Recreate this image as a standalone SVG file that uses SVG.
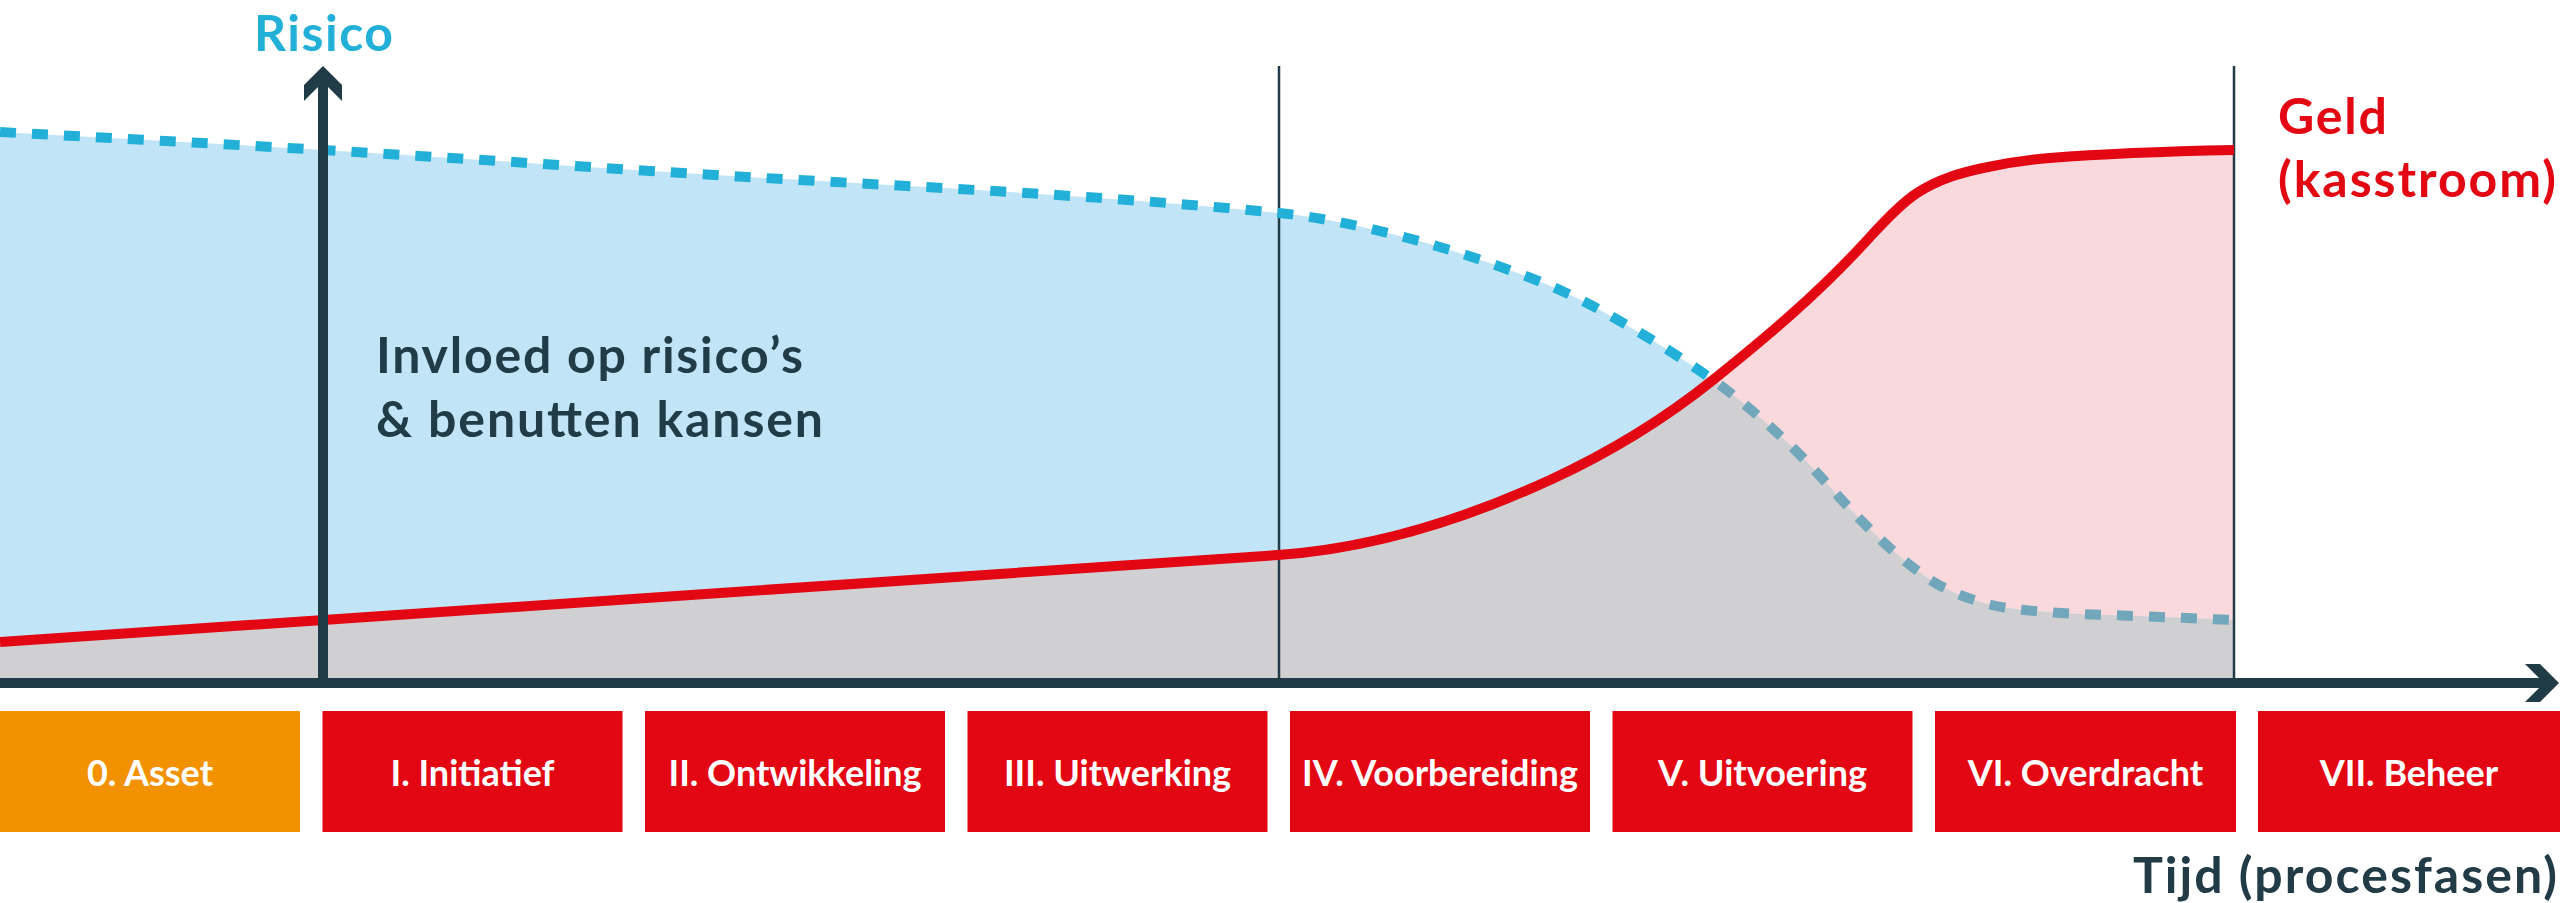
<svg xmlns="http://www.w3.org/2000/svg" width="2560" height="903" viewBox="0 0 2560 903">
<style>
text{font-family:Lato,"Liberation Sans",sans-serif;font-weight:700}
.box-red{fill:#e30613}
.box-orange{fill:#f39200}
.box-lbl{fill:#ffffff;font-size:36px;text-anchor:middle}
.dark{fill:#213b47}
.vline{stroke:#213b47;stroke-width:2.5;fill:none}
.dots{fill:none;stroke-width:10;stroke-dasharray:16 16}
</style>
<defs>
<path id="riskCurve" d="M0,132 C107.7,137.9 215.3,143.5 323,150 C432,156.5 541,163.8 650,171 C859.7,184.8 1069.3,192 1279,213 C1319.3,217 1359.7,225.9 1400,236 C1441,246.3 1482,259.8 1523,275 C1548.7,284.5 1574.3,295.9 1600,310 C1637.7,330.7 1675.3,353.2 1713,380 C1738,397.75 1763,419.5 1788,443 C1810,463.7 1832,489.9 1854,513 C1878,538.2 1902,560.4 1926,577 C1945.3,590.3 1964.7,597.4 1984,603 C2004.7,609 2025.3,610.2 2046,612 C2076,614.6 2106,614.8 2136,616 C2168.7,617.3 2201.3,618.7 2234,620"/>
<path id="moneyCurve" d="M0,642 L1278,555 C1368.7,548.8 1459.3,521.7 1550,480 C1604.3,455 1658.7,423.5 1713,380 C1765.3,338.1 1817.7,294.5 1870,237 C1885.7,219.8 1901.3,203.2 1917,193 C1939,178.7 1961,172.8 1983,168 C2005.3,163.1 2027.7,159.8 2050,158 C2111.3,153.1 2172.7,151.2 2234,150"/>
<clipPath id="underRisk">
<path d="M0,132 C107.7,137.9 215.3,143.5 323,150 C432,156.5 541,163.8 650,171 C859.7,184.8 1069.3,192 1279,213 C1319.3,217 1359.7,225.9 1400,236 C1441,246.3 1482,259.8 1523,275 C1548.7,284.5 1574.3,295.9 1600,310 C1637.7,330.7 1675.3,353.2 1713,380 C1738,397.75 1763,419.5 1788,443 C1810,463.7 1832,489.9 1854,513 C1878,538.2 1902,560.4 1926,577 C1945.3,590.3 1964.7,597.4 1984,603 C2004.7,609 2025.3,610.2 2046,612 C2076,614.6 2106,614.8 2136,616 C2168.7,617.3 2201.3,618.7 2234,620 L2234,683 L0,683 Z"/>
</clipPath>
<clipPath id="leftOfCross"><rect x="0" y="0" width="1716" height="903"/></clipPath>
<clipPath id="rightOfCross"><rect x="1716" y="0" width="844" height="903"/></clipPath>
</defs>

<g id="areas">
<path id="money-area" fill="#f9d9dc" d="M0,642 L1278,555 C1368.7,548.8 1459.3,521.7 1550,480 C1604.3,455 1658.7,423.5 1713,380 C1765.3,338.1 1817.7,294.5 1870,237 C1885.7,219.8 1901.3,203.2 1917,193 C1939,178.7 1961,172.8 1983,168 C2005.3,163.1 2027.7,159.8 2050,158 C2111.3,153.1 2172.7,151.2 2234,150 L2234,683 L0,683 Z"/>
<path id="risk-area" fill="#c1e5f6" d="M0,132 C107.7,137.9 215.3,143.5 323,150 C432,156.5 541,163.8 650,171 C859.7,184.8 1069.3,192 1279,213 C1319.3,217 1359.7,225.9 1400,236 C1441,246.3 1482,259.8 1523,275 C1548.7,284.5 1574.3,295.9 1600,310 C1637.7,330.7 1675.3,353.2 1713,380 C1738,397.75 1763,419.5 1788,443 C1810,463.7 1832,489.9 1854,513 C1878,538.2 1902,560.4 1926,577 C1945.3,590.3 1964.7,597.4 1984,603 C2004.7,609 2025.3,610.2 2046,612 C2076,614.6 2106,614.8 2136,616 C2168.7,617.3 2201.3,618.7 2234,620 L2234,683 L0,683 Z"/>
<path id="overlap-area" fill="#d0d0d2" clip-path="url(#underRisk)" d="M0,642 L1278,555 C1368.7,548.8 1459.3,521.7 1550,480 C1604.3,455 1658.7,423.5 1713,380 C1765.3,338.1 1817.7,294.5 1870,237 C1885.7,219.8 1901.3,203.2 1917,193 C1939,178.7 1961,172.8 1983,168 C2005.3,163.1 2027.7,159.8 2050,158 C2111.3,153.1 2172.7,151.2 2234,150 L2234,683 L0,683 Z"/>
</g>

<g id="connectors">
<line class="vline" x1="1279" y1="66" x2="1279" y2="683"/>
<line class="vline" x1="2234" y1="66" x2="2234" y2="683"/>
<use href="#moneyCurve" fill="none" stroke="#e30613" stroke-width="10"/>
<use href="#riskCurve" class="dots" stroke="#22b0d8" clip-path="url(#leftOfCross)"/>
<use href="#riskCurve" class="dots" stroke="#72a7bb" clip-path="url(#rightOfCross)"/>
<line x1="0" y1="683" x2="2545" y2="683" stroke="#213b47" stroke-width="10"/>
<polygon class="dark" points="2559,683 2540,664 2525,664 2544,683 2525,702 2540,702"/>
<line x1="323" y1="683" x2="323" y2="75" stroke="#213b47" stroke-width="10"/>
<polygon class="dark" points="323,66 342,85 342,101 323,82 304,101 304,85"/>
</g>

<g id="labels">
<text id="risico" x="254" y="51" font-size="50" fill="#22b0d8" textLength="139">Risico</text>
<text id="invloed" x="376" y="373" font-size="50" fill="#213b47" textLength="427">Invloed op risico’s</text>
<text x="376" y="437" font-size="50" fill="#213b47" textLength="447">&amp; benutten kansen</text>
<text id="geld" x="2278" y="134" font-size="50" fill="#e30613" textLength="109">Geld</text>
<text x="2278" y="197" font-size="50" fill="#e30613" textLength="278">(kasstroom)</text>
<text id="tijd" x="2133" y="893" font-size="50" fill="#213b47" textLength="424">Tijd (procesfasen)</text>
</g>

<g id="phase-0"><rect class="box-orange" x="0" y="711" width="300" height="121"/><text class="box-lbl" x="150" y="786">0. Asset</text></g>
<g id="phase-1"><rect class="box-red" x="322.5" y="711" width="300" height="121"/><text class="box-lbl" x="472.5" y="786">I. Initiatief</text></g>
<g id="phase-2"><rect class="box-red" x="645" y="711" width="300" height="121"/><text class="box-lbl" x="795" y="786">II. Ontwikkeling</text></g>
<g id="phase-3"><rect class="box-red" x="967.5" y="711" width="300" height="121"/><text class="box-lbl" x="1117.5" y="786">III. Uitwerking</text></g>
<g id="phase-4"><rect class="box-red" x="1290" y="711" width="300" height="121"/><text class="box-lbl" x="1440" y="786">IV. Voorbereiding</text></g>
<g id="phase-5"><rect class="box-red" x="1612.5" y="711" width="300" height="121"/><text class="box-lbl" x="1762.5" y="786">V. Uitvoering</text></g>
<g id="phase-6"><rect class="box-red" x="1935" y="711" width="301" height="121"/><text class="box-lbl" x="2085.5" y="786">VI. Overdracht</text></g>
<g id="phase-7"><rect class="box-red" x="2258" y="711" width="302" height="121"/><text class="box-lbl" x="2409" y="786">VII. Beheer</text></g>
</svg>
